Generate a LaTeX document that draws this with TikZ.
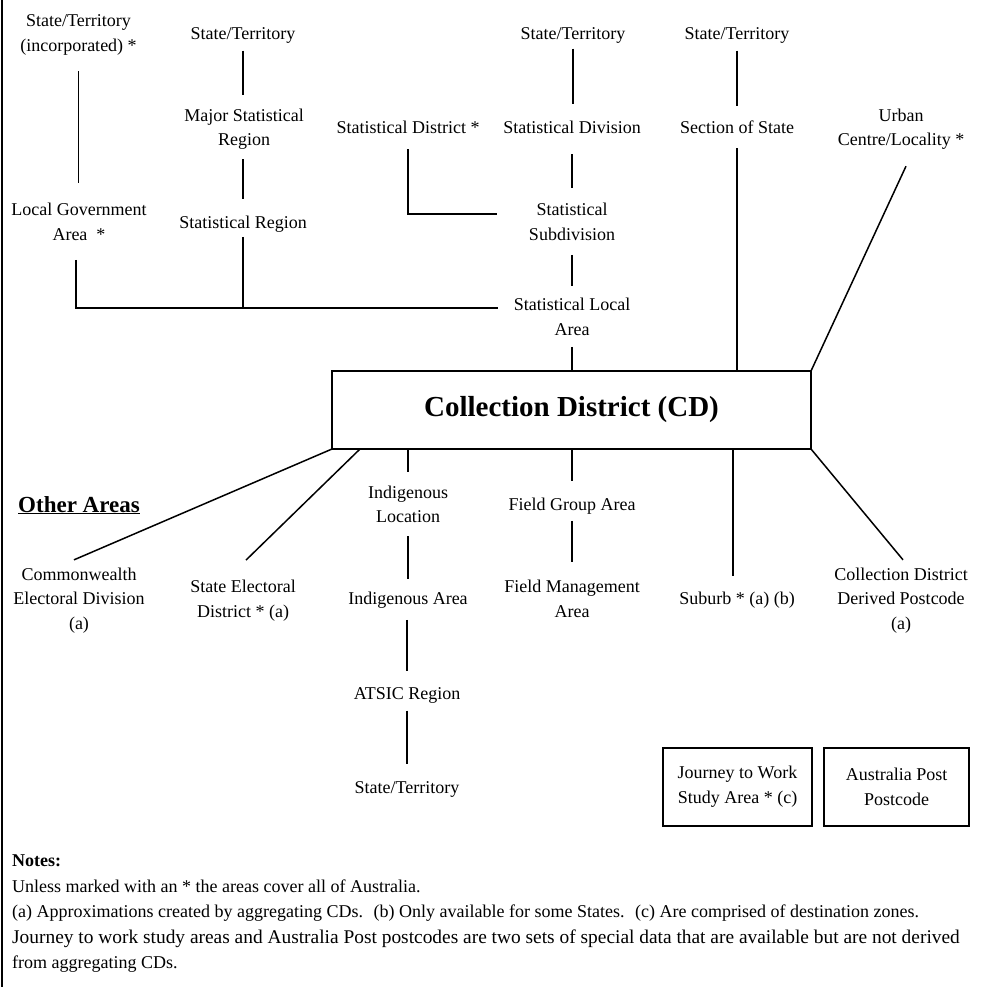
\documentclass[tikz,border=0pt]{standalone}
\usepackage{fontspec}
\setmainfont{Liberation Serif}
\usetikzlibrary{calc}
\begin{document}
\begin{tikzpicture}[x=1pt,y=-1pt,
  lbl/.style={font=\fontsize{18}{24.5}\selectfont, align=center, inner sep=0pt, outer sep=0pt},
  con/.style={line width=1.5pt},
  bigbox/.style={draw, line width=2.5pt, minimum width=479pt, minimum height=78pt, inner sep=0pt, outer sep=0pt, font=\fontsize{29}{34}\selectfont\bfseries},
  smallbox/.style={draw, line width=2pt, minimum height=78pt, inner sep=0pt, outer sep=0pt, align=center, font=\fontsize{18}{25}\selectfont},
  border/.style={line width=2pt}
]
\useasboundingbox (0,0) rectangle (985,987);
\draw[border] (2,0) -- (2,987);

% top labels
\node[lbl] (stinc) at (78.5,34.75) {State/Territory\\(incorporated) *};
\node[lbl] (st2) at (243,35.25) {State/Territory};
\node[lbl] (msr) at (244,129.25) {Major Statistical\\Region};
\node[lbl] (sr) at (243,224.25) {Statistical Region};
\node[lbl] (lga) at (79,221.75) {Local Government\\Area~ *};
\node[lbl] (sd) at (408,127.25) {Statistical District *};
\node[lbl] (st3) at (573,35.25) {State/Territory};
\node[lbl] (sdiv) at (572,127.25) {Statistical Division};
\node[lbl] (ssd) at (572,221.75) {Statistical\\Subdivision};
\node[lbl] (sla) at (572,316.75) {Statistical Local\\Area};
\node[lbl] (st4) at (737,35.25) {State/Territory};
\node[lbl] (sos) at (737,127.25) {Section of State};
\node[lbl] (ucl) at (901,129.25) {Urban\\Centre/Locality *};

% main box
\node[bigbox] (cd) at (571.5,410) {Collection District (CD)};

% bottom labels
\node[anchor=base west, inner sep=0pt, font=\fontsize{23}{27}\selectfont\bfseries] (oa) at (18,512) {\underline{Other Areas}};
\node[lbl] (ced) at (79,600.5) {Commonwealth\\Electoral Division\\(a)};
\node[lbl] (sed) at (243,600.5) {State Electoral\\District * (a)};
\node[lbl] (il) at (408,504.25) {Indigenous\\Location};
\node[lbl] (ia) at (408,600.25) {Indigenous Area};
\node[lbl] (atsic) at (407,695.25) {ATSIC Region};
\node[lbl] (st5) at (407,789.25) {State/Territory};
\node[lbl] (fga) at (572,506.25) {Field Group Area};
\node[lbl] (fma) at (572,598.75) {Field Management\\Area};
\node[lbl] (sub) at (737,600) {Suburb * (a) (b)};
\node[lbl] (cdp) at (901,600.5) {Collection District\\Derived Postcode\\(a)};

\node[smallbox, minimum width=149pt] (jtw) at (737.5,787) {Journey to Work\\Study Area * (c)};
\node[smallbox, minimum width=145pt] (apc) at (896.5,787) {Australia Post\\Postcode};

\node[anchor=north west, inner sep=0pt, align=left, font=\fontsize{18}{25.5}\selectfont] (notes) at (12,855)
 {\textbf{Notes:}\\
  Unless marked with an * the areas cover all of Australia.\\
  (a) Approximations created by aggregating CDs.~ (b) Only available for some States.~ (c) Are comprised of destination zones.\\
  \fontsize{19.4}{26}\selectfont Journey to work study areas and Australia Post postcodes are two sets of special data that are available but are not derived\\
  from aggregating CDs.};

% connectors above
\draw[con, shorten <=16.5pt, shorten >=20pt] (stinc.south) -- (stinc.south |- lga.north);
\draw[con, shorten <=7.5pt, shorten >=14pt] (st2.south) -- (st2.south |- msr.north);
\draw[con, shorten <=9.5pt, shorten >=17pt] (sr.north |- msr.south) -- (sr.north);
\coordinate (hbar) at ($(sla.north west)+(-16,10)$);
\draw[con] ([xshift=-3pt,yshift=-19.5pt]lga.south) |- (hbar);
\draw[con, shorten <=4.5pt] (sr.south) -- (sr.south |- hbar);
\coordinate (sdbar) at ($(ssd.north west)+(-32,11)$);
\draw[con] ([yshift=-15.5pt]sd.south) |- (sdbar);
\draw[con, shorten <=5.5pt, shorten >=17pt] (st3.south) -- (st3.south |- sdiv.north);
\draw[con, shorten <=20.5pt, shorten >=15pt] (sdiv.south) -- (ssd.north);
\draw[con, shorten <=14.5pt, shorten >=12pt] (ssd.south) -- (sla.north);
\draw[con, shorten <=11.5pt] (sla.south) -- (sla.south |- cd.north);
\draw[con, shorten <=7.5pt, shorten >=15pt] (st4.south) -- (sos.north);
\draw[con, shorten <=14.5pt] (sos.south) -- (sos.south |- cd.north);
\draw[con] ([xshift=5pt,yshift=-16.5pt]ucl.south) -- (cd.north east);

% connectors below
\draw[con] (cd.south west) -- ([xshift=-5pt,yshift=8pt]ced.north);
\draw[con] ([xshift=28pt]cd.south west) -- ([xshift=3pt,yshift=20pt]sed.north);
\draw[con, shorten >=14pt] (il.north |- cd.south) -- (il.north);
\draw[con, shorten <=13.5pt, shorten >=13pt] (il.south) -- (ia.north);
\draw[con, shorten <=11.5pt, shorten >=16pt] (atsic.north |- ia.south) -- (atsic.north);
\draw[con, shorten <=7.5pt, shorten >=17pt] (atsic.south) -- (st5.north);
\draw[con, shorten >=17pt] (fga.north |- cd.south) -- (fga.north);
\draw[con, shorten <=6.5pt, shorten >=18pt] (fga.south) -- (fma.north);
\coordinate (subtop) at ([xshift=-4pt]sub.north);
\draw[con, shorten >=16pt] (subtop |- cd.south) -- (subtop);
\draw[con] (cd.south east) -- ([xshift=2pt,yshift=8pt]cdp.north);
\end{tikzpicture}
\end{document}
